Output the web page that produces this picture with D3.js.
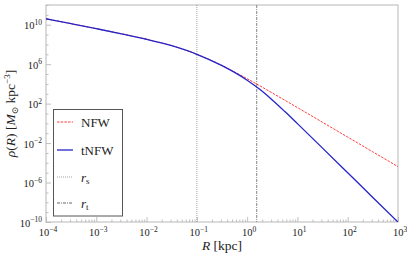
<!DOCTYPE html>
<html><head><meta charset="utf-8">
<script src="https://cdn.jsdelivr.net/npm/d3@7"></script>
<style>
body{margin:0;background:#fff}
svg{display:block}
text{font-family:"Liberation Serif","DejaVu Serif",serif;fill:#222}
</style>
</head><body>
<svg id="c" width="407" height="259"></svg>
<script>
// ---- data ----
const radius = [1e-4, 3.16e-4, 1e-3, 3.16e-3, 1e-2, 3.16e-2, 0.1, 0.316, 0.562, 1, 1.78, 3.16, 5.62, 10, 31.6, 100, 316, 1000];
const rhoNFW = [4.06e10, 1.28e10, 3.99e9, 1.21e9, 3.37e8, 7.43e7, 1.02e7, 7.45e5, 1.65e5, 3.37e4, 6.50e3, 1.21e3, 2.21e2, 3.99e1, 1.28, 4.06e-2, 1.29e-3, 4.07e-5];
const rhoTNFW = [4.06e10, 1.28e10, 3.99e9, 1.21e9, 3.37e8, 7.42e7, 1.01e7, 7.14e5, 1.46e5, 2.38e4, 2.81e3, 2.34e2, 1.56e1, 0.935, 3.07e-3, 9.77e-6, 3.10e-8, 9.80e-11];
const scaleRadius = [0.1];
const truncRadius = [1.55];
const xTickExps = [-4, -3, -2, -1, 0, 1, 2, 3];
const yTickExps = [-10, -6, -2, 2, 6, 10];
const legendLabels = ["NFW", "tNFW", "r_s", "r_t"];

// ---- layout ----
const L = 46, R = 398, T = 5, B = 222;
const svg = d3.select("#c");
const x = d3.scaleLog().domain([1e-4, 1e3]).range([L, R]);
const y = d3.scaleLog().domain([1e-10, 1e12]).range([B, T]);

const defs = svg.append("defs");
defs.append("clipPath").attr("id", "clip").append("rect")
  .attr("x", L).attr("y", T).attr("width", R - L).attr("height", B - T);

// minor ticks
const xMinor = [];
for (let e = -4; e < 3; e++) for (let m = 2; m <= 9; m++) xMinor.push(m * Math.pow(10, e));
const yMinor = [];
for (let e = -10; e <= 12; e++) if (!yTickExps.includes(e)) yMinor.push(Math.pow(10, e));

const tickCol = "#b0b0b0";
function styleAxis(g) {
  g.select(".domain").remove();
  g.selectAll(".tick line").attr("stroke", tickCol).attr("stroke-width", 0.8);
  g.selectAll(".tick text").remove();
}
svg.append("g").attr("transform", `translate(0,${B})`)
  .call(d3.axisBottom(x).tickValues(xMinor).tickSize(-2.5)).call(styleAxis);
svg.append("g").attr("transform", `translate(0,${B})`)
  .call(d3.axisBottom(x).tickValues(xTickExps.map(e => Math.pow(10, e))).tickSize(-5)).call(styleAxis);
svg.append("g").attr("transform", `translate(${L},0)`)
  .call(d3.axisLeft(y).tickValues(yMinor).tickSize(-2.5)).call(styleAxis);
svg.append("g").attr("transform", `translate(${L},0)`)
  .call(d3.axisLeft(y).tickValues(yTickExps.map(e => Math.pow(10, e))).tickSize(-5)).call(styleAxis);

// frame
svg.append("rect").attr("x", L).attr("y", T).attr("width", R - L).attr("height", B - T)
  .attr("fill", "none").attr("stroke", "#b8b8b8").attr("stroke-width", 1);

function expLabel(sel, e) {
  sel.append("tspan").text("10");
  sel.append("tspan").attr("font-size", "7.5px").attr("dy", "-4.5")
    .text(e < 0 ? "\u2212" + Math.abs(e) : String(e));
}
// x tick labels
xTickExps.forEach(e => {
  const t = svg.append("text").attr("x", x(Math.pow(10, e)) + 2).attr("y", B + 14)
    .attr("text-anchor", "middle").attr("font-size", "10.5px");
  expLabel(t, e);
});
// y tick labels
yTickExps.forEach(e => {
  const t = svg.append("text").attr("x", 42).attr("y", y(Math.pow(10, e)) + 4.5)
    .attr("text-anchor", "end").attr("font-size", "10.5px");
  expLabel(t, e);
});

// vertical reference lines
const plot = svg.append("g").attr("clip-path", "url(#clip)");
plot.selectAll(".rs").data(scaleRadius).join("line")
  .attr("x1", d => x(d)).attr("x2", d => x(d)).attr("y1", T).attr("y2", B)
  .attr("stroke", "#9a9a9a").attr("stroke-width", 0.9).attr("stroke-dasharray", "1,1");
plot.selectAll(".rt").data(truncRadius).join("line")
  .attr("x1", d => x(d)).attr("x2", d => x(d)).attr("y1", T).attr("y2", B)
  .attr("stroke", "#777").attr("stroke-width", 0.9).attr("stroke-dasharray", "3,1,1,1");

const line = d3.line().x(d => x(d[0])).y(d => y(d[1])).curve(d3.curveMonotoneX);
plot.append("path").datum(radius.map((r, i) => [r, rhoNFW[i]]))
  .attr("d", line).attr("fill", "none").attr("stroke", "#ff3b3b")
  .attr("stroke-width", 1).attr("stroke-dasharray", "2.5,1.2");
plot.append("path").datum(radius.map((r, i) => [r, rhoTNFW[i]]))
  .attr("d", line).attr("fill", "none").attr("stroke", "#2424c8")
  .attr("stroke-width", 1.3);

// legend
const lg = svg.append("g");
lg.append("rect").attr("x", 53.5).attr("y", 109.5).attr("width", 69).attr("height", 106.5)
  .attr("fill", "#fff").attr("stroke", "#555").attr("stroke-width", 1);
const legendStyles = [
  {stroke: "#ff3b3b", dash: "2.5,1.2", w: 1},
  {stroke: "#2424c8", dash: null, w: 1.3},
  {stroke: "#9a9a9a", dash: "1,1", w: 0.9},
  {stroke: "#555", dash: "3,1,1,1", w: 0.9}
];
const rowY = [122, 150, 177, 203];
legendLabels.forEach((lab, i) => {
  lg.append("line").attr("x1", 57).attr("x2", 73).attr("y1", rowY[i]).attr("y2", rowY[i])
    .attr("stroke", legendStyles[i].stroke).attr("stroke-width", legendStyles[i].w)
    .attr("stroke-dasharray", legendStyles[i].dash);
  const t = lg.append("text").attr("x", 81).attr("y", rowY[i] + 4.5).attr("font-size", "13px");
  if (lab.includes("_")) {
    const [a, b] = lab.split("_");
    t.append("tspan").attr("font-style", "italic").text(a);
    t.append("tspan").attr("font-size", "9px").attr("dy", "2.5").text(b);
  } else t.text(lab);
});

// axis titles
const xt = svg.append("text").attr("x", (L + R) / 2).attr("y", 250)
  .attr("text-anchor", "middle").attr("font-size", "13.5px");
xt.append("tspan").attr("font-style", "italic").text("R");
xt.append("tspan").text(" [kpc]");

const yt = svg.append("text").attr("transform", `translate(15,${(T + B) / 2}) rotate(-90)`)
  .attr("text-anchor", "middle").attr("font-size", "13.5px");
yt.append("tspan").attr("font-style", "italic").text("\u03c1");
yt.append("tspan").text("(");
yt.append("tspan").attr("font-style", "italic").text("R");
yt.append("tspan").text(") [");
yt.append("tspan").attr("font-style", "italic").text("M");
yt.append("tspan").attr("font-size", "9px").attr("dy", "2.5").text("\u2299");
yt.append("tspan").attr("dy", "-2.5").text(" kpc");
yt.append("tspan").attr("font-size", "9px").attr("dy", "-5").text("\u22123");
yt.append("tspan").attr("dy", "5").text("]");
</script>
</body></html>
